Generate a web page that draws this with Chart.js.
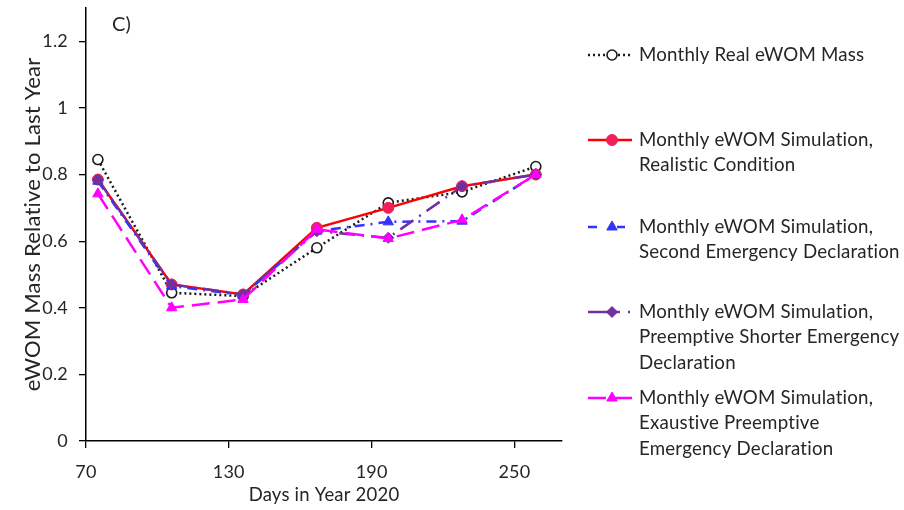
<!DOCTYPE html>
<html>
<head>
<meta charset="utf-8">
<script src="https://cdn.jsdelivr.net/npm/chart.js@4.4.1/dist/chart.umd.min.js"></script>
<style>
  html, body { margin: 0; padding: 0; background: #fff; }
  #wrap { width: 904px; height: 510px; }
</style>
</head>
<body>
<div id="wrap"><canvas id="c" width="904" height="510"></canvas></div>
<script>
// Day of year (mid-month) for each monthly value
const days = [75, 106, 136, 167, 197, 228, 259];

// eWOM mass relative to the previous year
const realMass        = [0.845, 0.445, 0.435, 0.580, 0.715, 0.748, 0.824];
const simRealistic    = [0.785, 0.470, 0.440, 0.640, 0.700, 0.765, 0.800];
const simSecond       = [0.780, 0.465, 0.438, 0.630, 0.658, 0.660, 0.800];
const simShorter      = [0.785, 0.470, 0.440, 0.630, 0.610, 0.765, 0.800];
const simExhaustive   = [0.742, 0.400, 0.425, 0.635, 0.608, 0.664, 0.800];

const xTicks = [70, 130, 190, 250];
const yTicks = [0, 0.2, 0.4, 0.6, 0.8, 1, 1.2];

const seriesNames = [
  ['Monthly Real eWOM Mass'],
  ['Monthly eWOM Simulation,', 'Realistic Condition'],
  ['Monthly eWOM Simulation,', 'Second Emergency Declaration'],
  ['Monthly eWOM Simulation,', 'Preemptive Shorter Emergency', 'Declaration'],
  ['Monthly eWOM Simulation,', 'Exaustive Preemptive', 'Emergency Declaration']
];

const FONT = 'Lato, "Open Sans", sans-serif';
const TEXT = '#262626';

function pts(values) {
  return days.map((d, i) => ({ x: d, y: values[i] }));
}

const datasets = [
  {
    label: seriesNames[0].join(' '),
    data: pts(realMass),
    borderColor: '#1a1a1a', borderWidth: 2.5, borderDash: [2, 3],
    pointStyle: 'circle', pointRadius: 5, pointBorderWidth: 1.6,
    pointBackgroundColor: '#ffffff', pointBorderColor: '#1a1a1a',
    order: 5
  },
  {
    label: seriesNames[1].join(' '),
    data: pts(simRealistic),
    borderColor: '#ff0000', borderWidth: 2.5,
    pointStyle: 'circle', pointRadius: 5.5, pointBorderWidth: 1,
    pointBackgroundColor: '#f0205a', pointBorderColor: '#f0205a',
    order: 4
  },
  {
    label: seriesNames[2].join(' '),
    data: pts(simSecond),
    borderColor: '#3333ff', borderWidth: 2.5, borderDash: [10, 6, 2, 6],
    pointStyle: 'triangle', pointRadius: 6, pointBorderWidth: 1,
    pointBackgroundColor: '#3333ff', pointBorderColor: '#3333ff',
    order: 3
  },
  {
    label: seriesNames[3].join(' '),
    data: pts(simShorter),
    borderColor: '#7030a0', borderWidth: 2.5, borderDash: [16, 7, 2, 7],
    pointStyle: 'rectRot', pointRadius: 5.5, pointBorderWidth: 1,
    pointBackgroundColor: '#7030a0', pointBorderColor: '#7030a0',
    order: 2
  },
  {
    label: seriesNames[4].join(' '),
    data: pts(simExhaustive),
    borderColor: '#ff00ff', borderWidth: 2.5, borderDash: [18, 8],
    pointStyle: 'triangle', pointRadius: 6, pointBorderWidth: 1,
    pointBackgroundColor: '#ff00ff', pointBorderColor: '#ff00ff',
    order: 1
  }
];

// Legend rows: sample line on the left, wrapped label on the right
const legendRows = [
  { y: 55,  sample: 'full' },
  { y: 140, sample: 'full' },
  { y: 227, sample: 'split' },
  { y: 312, sample: 'purple' },
  { y: 398, sample: 'full' }
];

function drawMarker(ctx, ds, x, y) {
  ctx.save();
  ctx.setLineDash([]);
  ctx.fillStyle = ds.pointBackgroundColor;
  ctx.strokeStyle = ds.pointBorderColor;
  ctx.lineWidth = ds.pointBorderWidth;
  const r = ds.pointRadius;
  ctx.beginPath();
  if (ds.pointStyle === 'circle') {
    ctx.arc(x, y, r, 0, Math.PI * 2);
  } else if (ds.pointStyle === 'triangle') {
    ctx.moveTo(x, y - r);
    ctx.lineTo(x + r * 0.866, y + r * 0.5);
    ctx.lineTo(x - r * 0.866, y + r * 0.5);
  } else if (ds.pointStyle === 'rectRot') {
    ctx.moveTo(x, y - r);
    ctx.lineTo(x + r, y);
    ctx.lineTo(x, y + r);
    ctx.lineTo(x - r, y);
  }
  ctx.closePath();
  ctx.fill();
  ctx.stroke();
  ctx.restore();
}

// Keep "ti" etc. as separate glyphs
const spacingPlugin = {
  id: 'noLigatures',
  beforeDraw(chart) {
    if ('letterSpacing' in chart.ctx) chart.ctx.letterSpacing = '0.2px';
  }
};

const legendPlugin = {
  id: 'sideLegend',
  afterDraw(chart) {
    const ctx = chart.ctx;
    const x0 = 588, x1 = 632, xm = 612, tx = 639, lh = 25.3;
    ctx.save();
    legendRows.forEach((row, i) => {
      const ds = chart.data.datasets[i];
      ctx.strokeStyle = ds.borderColor;
      ctx.lineWidth = ds.borderWidth;
      ctx.setLineDash(ds.borderDash || []);
      ctx.beginPath();
      if (row.sample === 'split') {
        ctx.setLineDash([]);
        ctx.moveTo(x0, row.y); ctx.lineTo(x0 + 9, row.y);
        ctx.moveTo(xm + 5, row.y); ctx.lineTo(xm + 13, row.y);
      } else if (row.sample === 'purple') {
        ctx.setLineDash([]);
        ctx.moveTo(x0, row.y); ctx.lineTo(xm + 8, row.y);
        ctx.stroke();
        ctx.beginPath();
        ctx.moveTo(x1 - 4, row.y); ctx.lineTo(x1 - 2, row.y);
      } else {
        ctx.moveTo(x0, row.y); ctx.lineTo(x1, row.y);
      }
      ctx.stroke();
      ctx.setLineDash([]);
      drawMarker(ctx, ds, xm, row.y);

      ctx.fillStyle = TEXT;
      ctx.font = '18.7px ' + FONT;
      ctx.textBaseline = 'middle';
      ctx.textAlign = 'left';
      seriesNames[i].forEach((line, k) => {
        ctx.fillText(line, tx, row.y + k * lh);
      });
    });
    // panel letter
    ctx.font = '20px ' + FONT;
    ctx.fillText('C)', 112, 25);
    ctx.restore();
  }
};

new Chart(document.getElementById('c'), {
  type: 'line',
  data: { datasets },
  plugins: [spacingPlugin, legendPlugin],
  options: {
    responsive: false,
    animation: false,
    layout: { padding: { left: 0, top: 8, right: 342, bottom: 0 } },
    plugins: { legend: { display: false }, tooltip: { enabled: false } },
    elements: { line: { tension: 0 } },
    scales: {
      x: {
        type: 'linear', min: 70, max: 270,
        afterFit(s) { s.height = 69; s.paddingLeft = 0; s.paddingRight = 0; },
        afterBuildTicks(s) { s.ticks = xTicks.map(v => ({ value: v })); },
        grid: { display: true, drawOnChartArea: false, drawTicks: true, tickLength: 7, color: '#000', lineWidth: 1.3 },
        border: { display: true, color: '#000', width: 1.5 },
        ticks: { color: TEXT, font: { family: FONT, size: 18 }, padding: 13, maxRotation: 0 },
        title: { display: true, text: 'Days in Year 2020', color: TEXT, font: { family: FONT, size: 18.5 }, padding: { top: 0, bottom: 4 } }
      },
      y: {
        type: 'linear', min: 0, max: 1.3,
        afterFit(s) { s.width = 86; s.paddingTop = 0; s.paddingBottom = 0; },
        afterBuildTicks(s) { s.ticks = yTicks.map(v => ({ value: v })); },
        grid: { display: true, drawOnChartArea: false, drawTicks: true, tickLength: 7, color: '#000', lineWidth: 1.3 },
        border: { display: true, color: '#000', width: 1.5 },
        ticks: {
          color: TEXT, font: { family: FONT, size: 18 }, padding: 11,
          callback: v => String(Number(v.toFixed(2)))
        },
        title: { display: true, text: 'eWOM Mass Relative to Last Year', color: TEXT, font: { family: FONT, size: 22 }, padding: { top: 20, bottom: 0 } }
      }
    }
  }
});
</script>
</body>
</html>
